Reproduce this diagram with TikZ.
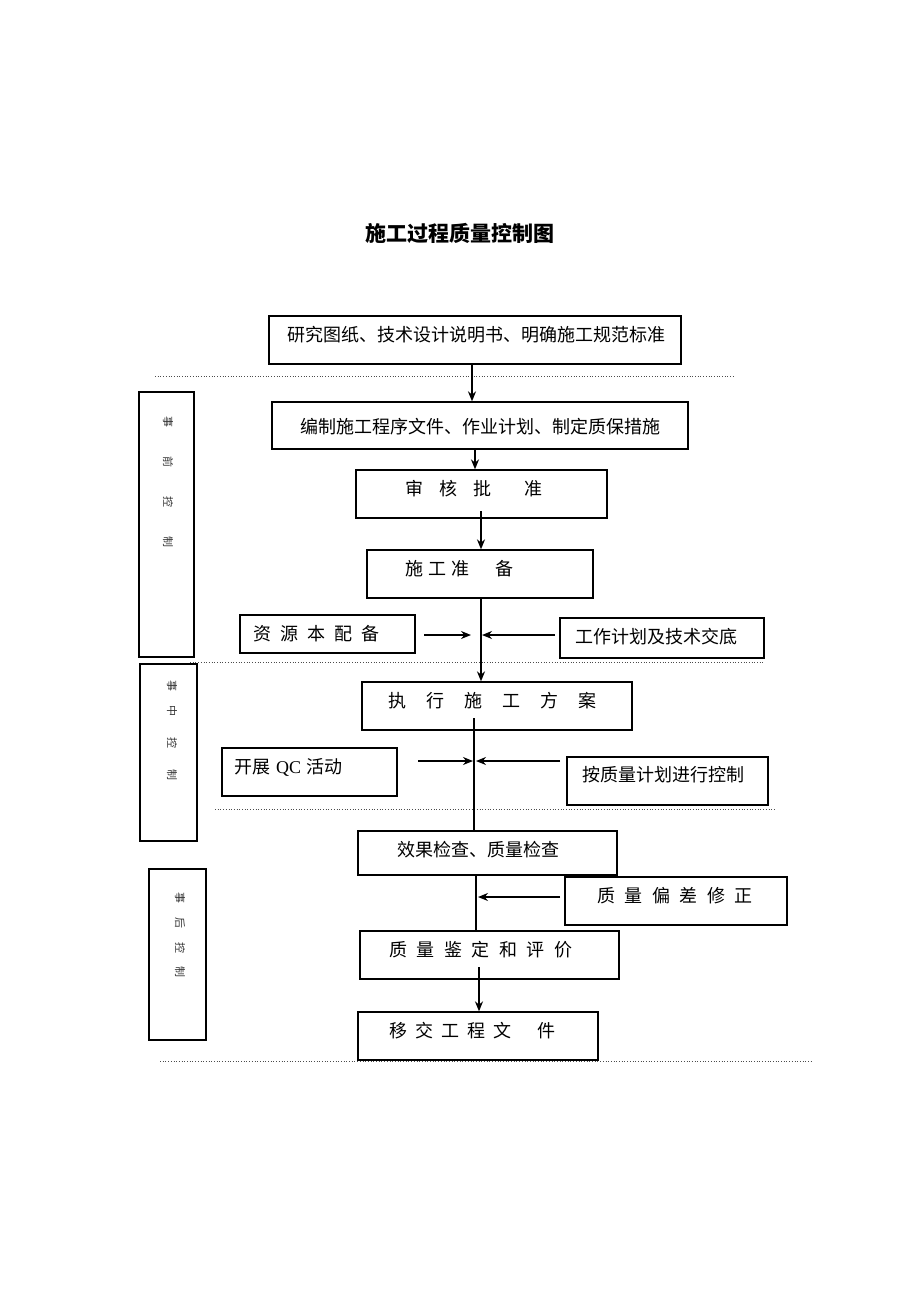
\documentclass[tikz,border=0pt]{standalone}
\usepackage{fontspec}
\setmainfont{Liberation Serif}
\newfontfamily\cjk{Noto Sans CJK SC}
\usetikzlibrary{arrows.meta}
\tikzset{
  box/.style={draw, line width=1.3pt, inner sep=0pt},
  txt/.style={inner sep=0pt, anchor=west, font=\cjk\fontsize{18}{20}\selectfont},
  side/.style={inner sep=0pt, rotate=-90, font=\cjk\fontsize{11}{12}\selectfont, text=black!80},
  flow/.style={line width=1.5pt, -{Stealth[length=10pt,width=8pt]}},
  plain/.style={line width=1.5pt},
  sep/.style={dotted, line width=0.7pt, black!70},
}
\newcommand{\gp}[1]{\hspace{#1pt}}
\begin{document}
\begin{tikzpicture}[x=1pt,y=-1pt]
\useasboundingbox (0,0) rectangle (920,1302);
\fill[white] (0,0) rectangle (920,1302);
% title
\node[inner sep=0pt, font=\cjk\bfseries\fontsize{21}{23}\selectfont] (title) at (460,233) {施工过程质量控制图};
% main boxes
\node[box, minimum width=412, minimum height=48] (b1) at (475,340) {};
\node[txt, anchor=center] (b1t) at (476,335) {研究图纸、技术设计说明书、明确施工规范标准};
\node[box, minimum width=416, minimum height=47] (b2) at (480,425.5) {};
\node[txt, anchor=center] (b2t) at (480,427) {编制施工程序文件、作业计划、制定质保措施};
\node[box, minimum width=251, minimum height=48] (b3) at (481.5,494) {};
\node[txt] (b3t) at (405,489) {审\gp{16}核\gp{16}批\gp{33}准};
\node[box, minimum width=226, minimum height=48] (b4) at (480,574) {};
\node[txt] (b4t) at (405,569) {施\gp{5}工\gp{5}准\gp{26}备};
\node[box, minimum width=270, minimum height=48] (b5) at (497,706) {};
\node[txt] (b5t) at (388,701) {执\gp{20}行\gp{20}施\gp{20}工\gp{20}方\gp{20}案};
\node[box, minimum width=259, minimum height=44] (b6) at (487.5,853) {};
\node[txt] (b6t) at (397,850) {效果检查、质量检查};
\node[box, minimum width=259, minimum height=48] (b7) at (489.5,955) {};
\node[txt] (b7t) at (389,950) {质\gp{9.5}量\gp{9.5}鉴\gp{9.5}定\gp{9.5}和\gp{9.5}评\gp{9.5}价};
\node[box, minimum width=240, minimum height=48] (b8) at (478,1036) {};
\node[txt] (b8t) at (389,1031) {移\gp{8}交\gp{8}工\gp{8}程\gp{8}文\gp{26}件};
% side input boxes
\node[box, minimum width=175, minimum height=38] (r1) at (327.5,634) {};
\node[txt] (r1t) at (253,634) {资\gp{9}源\gp{9}本\gp{9}配\gp{9}备};
\node[box, minimum width=204, minimum height=40] (r2) at (662,638) {};
\node[txt] (r2t) at (575,637) {工作计划及技术交底};
\node[box, minimum width=175, minimum height=48] (q1) at (309.5,772) {};
\node[txt] (q1t) at (234,767) {开展\gp{6}{\fontspec{Liberation Serif}QC}\gp{5}活动};
\node[box, minimum width=201, minimum height=48] (q2) at (667.5,781) {};
\node[txt] (q2t) at (582,775) {按质量计划进行控制};
\node[box, minimum width=222, minimum height=48] (c1) at (676,901) {};
\node[txt] (c1t) at (597,896) {质\gp{9.5}量\gp{9.5}偏\gp{9.5}差\gp{9.5}修\gp{9.5}正};
% phase boxes
\node[box, minimum width=55, minimum height=265] (s1) at (166.5,524.5) {};
\node[side] (s1a) at (168,422) {事};
\node[side] (s1b) at (168,462) {前};
\node[side] (s1c) at (168,502) {控};
\node[side] (s1d) at (168,542) {制};
\node[box, minimum width=57, minimum height=177] (s2) at (168.5,752.5) {};
\node[side] (s2a) at (172,686) {事};
\node[side] (s2b) at (172,711) {中};
\node[side] (s2c) at (172,743) {控};
\node[side] (s2d) at (172,775) {制};
\node[box, minimum width=57, minimum height=171] (s3) at (177.5,954.5) {};
\node[side] (s3a) at (180,898) {事};
\node[side] (s3b) at (180,923) {后};
\node[side] (s3c) at (180,948) {控};
\node[side] (s3d) at (180,972) {制};
% dotted separators
\coordinate (d1a) at (155,376); \coordinate (d1b) at (735,376);
\coordinate (d2a) at (190,662); \coordinate (d2b) at (765,662);
\coordinate (d3a) at (215,809); \coordinate (d3b) at (775,809);
\coordinate (d4a) at (160,1061); \coordinate (d4b) at (812,1061);
\draw[sep] (d1a) -- (d1b);
\draw[sep] (d2a) -- (d2b);
\draw[sep] (d3a) -- (d3b);
\draw[sep] (d4a) -- (d4b);
% spine x positions
\coordinate (x1) at (472,0);
\coordinate (x2) at (475,0);
\coordinate (x3) at (481,0);
\coordinate (x5) at (474,0);
\coordinate (x6) at (476,0);
\coordinate (x7) at (479,0);
\coordinate (m3) at (481,511);
\coordinate (m5) at (474,718);
\coordinate (m7) at (479,967);
% main flow
\draw[flow] (b1.south -| x1) -- (b2.north -| x1);
\draw[flow] (b2.south -| x2) -- (b3.north -| x2);
\draw[flow] (m3) -- (b4.north -| x3);
\draw[flow] (b4.south -| x3) -- (b5.north -| x3);
\draw[plain] (m5) -- (b6.north -| x5);
\draw[plain] (b6.south -| x6) -- (b7.north -| x6);
\draw[flow] (m7) -- (b8.north -| x7);
% side arrows
\coordinate (ra) at (424,635); \coordinate (rb) at (471,635);
\coordinate (rc) at (555,635); \coordinate (rd) at (482,635);
\draw[flow] (ra) -- (rb);
\draw[flow] (rc) -- (rd);
\coordinate (qa) at (418,761); \coordinate (qb) at (473,761);
\coordinate (qc) at (560,761); \coordinate (qd) at (476,761);
\draw[flow] (qa) -- (qb);
\draw[flow] (qc) -- (qd);
\coordinate (ca) at (560,897); \coordinate (cb) at (478,897);
\draw[flow] (ca) -- (cb);
\end{tikzpicture}
\end{document}
